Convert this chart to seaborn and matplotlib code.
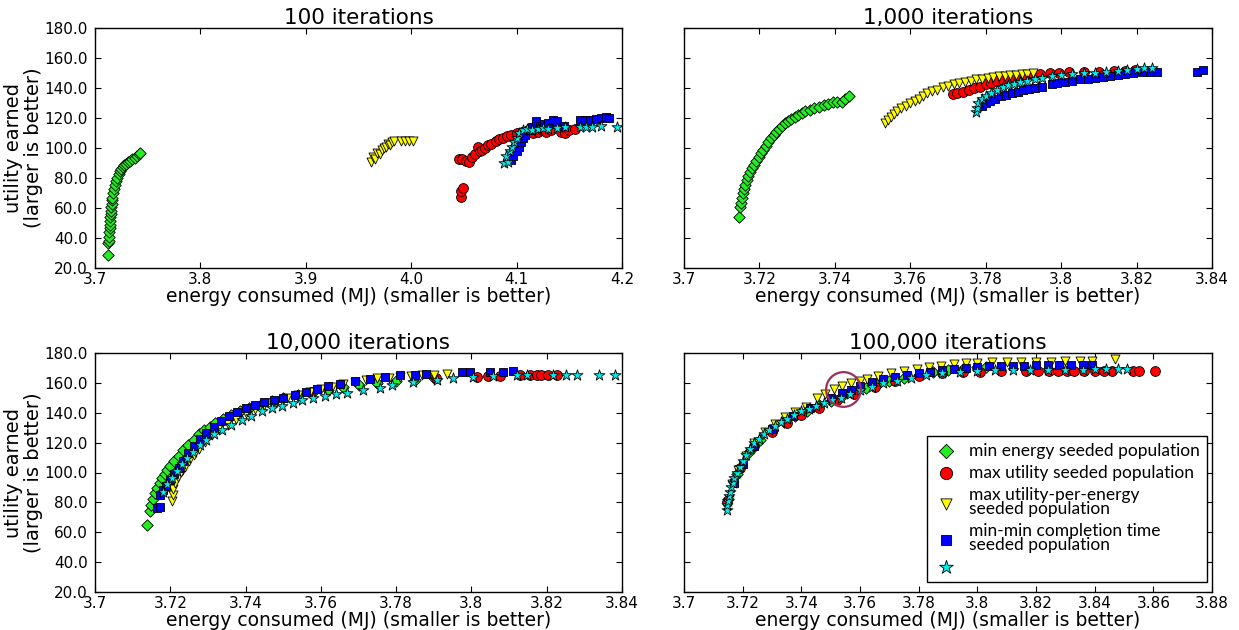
import numpy as np
import pandas as pd
import matplotlib
matplotlib.use("Agg")
import matplotlib.pyplot as plt
import seaborn as sns

# ---------------- data ----------------
panel_titles = ["100 iterations", "1,000 iterations", "10,000 iterations", "100,000 iterations"]
xlims = [(3.7, 4.2), (3.7, 3.84), (3.7, 3.84), (3.7, 3.88)]
x_ticks_100 = [3.7, 3.8, 3.9, 4.0, 4.1, 4.2]
x_ticks_1k = [3.7, 3.72, 3.74, 3.76, 3.78, 3.8, 3.82, 3.84]
x_ticks_10k = [3.7, 3.72, 3.74, 3.76, 3.78, 3.8, 3.82, 3.84]
x_ticks_100k = [3.7, 3.72, 3.74, 3.76, 3.78, 3.8, 3.82, 3.84, 3.86, 3.88]
x_tick_labels_100 = ["3.7", "3.8", "3.9", "4.0", "4.1", "4.2"]
x_tick_labels_1k = ["3.7", "3.72", "3.74", "3.76", "3.78", "3.8", "3.82", "3.84"]
x_tick_labels_10k = ["3.7", "3.72", "3.74", "3.76", "3.78", "3.8", "3.82", "3.84"]
x_tick_labels_100k = ["3.7", "3.72", "3.74", "3.76", "3.78", "3.8", "3.82", "3.84", "3.86", "3.88"]
y_ticks = [20, 40, 60, 80, 100, 120, 140, 160, 180]
y_tick_labels = ["20.0", "40.0", "60.0", "80.0", "100.0", "120.0", "140.0", "160.0", "180.0"]

series_labels = ["min energy seeded population", "max utility seeded population",
                 "max utility-per-energy\nseeded population",
                 "min-min completion time\nseeded population", ""]

# --- 100 iterations ---
e100_green = [3.7123, 3.7127, 3.7130, 3.7133, 3.7135, 3.7138, 3.7140, 3.7142, 3.7145, 3.7148, 3.7150,
              3.7153, 3.7157, 3.7160, 3.7165, 3.7172, 3.7180, 3.7190, 3.7200, 3.7212, 3.7225, 3.7238,
              3.7250, 3.7262, 3.7275, 3.7290, 3.7310, 3.7330, 3.7350, 3.7375, 3.7400, 3.7415, 3.7425]
u100_green = [29.0, 36.5, 38.0, 41.0, 44.0, 46.5, 49.0, 51.5, 54.0, 56.0, 58.0, 60.5, 63.0, 65.5, 67.0,
              70.0, 73.0, 75.5, 78.0, 80.0, 82.5, 84.5, 86.0, 87.5, 88.5, 89.5, 90.5, 91.5, 92.5, 93.5,
              95.0, 96.0, 97.0]
e100_red = [4.047, 4.047, 4.049, 4.045, 4.048, 4.052, 4.055, 4.058, 4.061, 4.063, 4.065, 4.067, 4.070,
            4.073, 4.076, 4.080, 4.083, 4.087, 4.091, 4.095, 4.100, 4.105, 4.110, 4.116, 4.120, 4.124,
            4.128, 4.133, 4.142, 4.146, 4.150, 4.155]
u100_red = [67.5, 71.5, 73.5, 93.0, 92.5, 91.5, 90.5, 94.0, 96.0, 101.0, 98.0, 99.0, 100.0, 102.0,
            103.0, 105.0, 106.0, 107.0, 108.0, 109.0, 110.0, 111.0, 111.0, 110.0, 111.0, 112.0, 111.0,
            112.0, 111.0, 110.0, 112.0, 113.0]
e100_yellow = [3.962, 3.964, 3.966, 3.968, 3.970, 3.972, 3.974, 3.976, 3.978, 3.980, 3.982, 3.984,
               3.990, 3.994, 3.998, 4.002]
u100_yellow = [91.0, 94.0, 92.5, 97.0, 96.0, 99.0, 100.0, 101.0, 103.0, 102.0, 104.0, 105.0,
               105.0, 105.0, 105.0, 105.0]
e100_blue = [4.095, 4.097, 4.100, 4.102, 4.104, 4.106, 4.108, 4.112, 4.115, 4.118, 4.122, 4.126, 4.130,
             4.135, 4.138, 4.145, 4.160, 4.165, 4.170, 4.175, 4.180, 4.185, 4.188]
u100_blue = [92.0, 95.0, 98.0, 101.0, 104.0, 107.0, 109.0, 112.0, 114.0, 118.0, 115.0, 116.0, 117.0,
             119.0, 118.0, 115.0, 119.0, 119.0, 119.0, 119.5, 120.0, 120.5, 120.0]
e100_cyan = [4.088, 4.092, 4.090, 4.094, 4.096, 4.098, 4.100, 4.102, 4.106, 4.110, 4.115, 4.120, 4.125,
             4.130, 4.138, 4.146, 4.160, 4.166, 4.172, 4.180, 4.195]
u100_cyan = [90.0, 91.0, 95.0, 98.0, 101.0, 104.0, 107.0, 110.0, 112.0, 113.0, 112.0, 113.0, 113.5,
             113.0, 113.5, 114.0, 114.0, 114.0, 114.0, 114.5, 114.0]

# --- 1,000 iterations ---
e1k_green = [3.7146, 3.7149, 3.7151, 3.7154, 3.7157, 3.7160, 3.7163, 3.7166, 3.7170, 3.7175, 3.7180,
             3.7186, 3.7192, 3.7198, 3.7204, 3.7210, 3.7217, 3.7224, 3.7231, 3.7238, 3.7245, 3.7252,
             3.7260, 3.7268, 3.7276, 3.7284, 3.7293, 3.7302, 3.7312, 3.7322, 3.7333, 3.7345, 3.7357,
             3.7370, 3.7383, 3.7395, 3.7405, 3.7418, 3.7428, 3.7437]
u1k_green = [54.0, 61.0, 63.5, 66.5, 70.0, 72.5, 75.5, 78.5, 81.5, 84.0, 86.5, 89.0, 91.5, 94.0, 96.5,
             99.0, 101.5, 104.0, 106.5, 108.5, 110.5, 112.5, 114.5, 116.5, 118.0, 119.5, 121.0, 122.0,
             123.5, 124.5, 125.5, 126.5, 127.5, 128.5, 129.5, 130.5, 130.5, 131.0, 132.5, 134.5]
e1k_red = [3.7712, 3.7725, 3.7740, 3.7755, 3.7770, 3.7785, 3.7800, 3.7815, 3.7830, 3.7845, 3.7860,
           3.7875, 3.7890, 3.7905, 3.7925, 3.7945, 3.7970, 3.7995, 3.8020, 3.8060, 3.8100, 3.8140,
           3.8170, 3.8195]
u1k_red = [136.0, 137.0, 137.5, 138.5, 140.0, 141.0, 142.5, 143.5, 144.5, 145.5, 146.5, 147.3, 148.0,
           148.5, 149.2, 149.5, 150.0, 150.3, 150.6, 150.8, 151.0, 151.3, 151.6, 152.0]
e1k_yellow = [3.7533, 3.7540, 3.7548, 3.7556, 3.7566, 3.7576, 3.7588, 3.7600, 3.7612, 3.7622, 3.7633,
              3.7645, 3.7658, 3.7672, 3.7686, 3.7700, 3.7715, 3.7730, 3.7745, 3.7760, 3.7775, 3.7790,
              3.7805, 3.7820, 3.7835, 3.7850, 3.7865, 3.7880, 3.7895, 3.7910, 3.7925]
u1k_yellow = [117.0, 119.0, 121.0, 123.0, 125.0, 126.5, 128.0, 130.0, 131.5, 133.0, 135.0, 136.5,
              138.0, 139.0, 140.5, 141.5, 142.5, 143.5, 144.3, 145.0, 145.7, 146.3, 146.9, 147.4,
              147.9, 148.3, 148.7, 149.0, 149.3, 149.6, 149.8]
e1k_blue = [3.7790, 3.7800, 3.7812, 3.7825, 3.7840, 3.7855, 3.7870, 3.7885, 3.7900, 3.7915, 3.7930,
            3.7950, 3.7975, 3.7990, 3.8010, 3.8030, 3.8050, 3.8070, 3.8090, 3.8110, 3.8130, 3.8150,
            3.8170, 3.8190, 3.8215, 3.8235, 3.8255, 3.8360, 3.8375]
u1k_blue = [128.0, 130.0, 131.5, 133.0, 134.5, 135.5, 136.5, 137.5, 138.5, 139.3, 140.0, 140.8, 142.5,
            143.5, 144.3, 145.0, 145.7, 146.3, 147.0, 147.6, 148.3, 149.0, 149.5, 150.0, 150.5, 150.8,
            151.0, 151.0, 151.7]
e1k_cyan = [3.7773, 3.7776, 3.7780, 3.7790, 3.7800, 3.7815, 3.7830, 3.7845, 3.7860, 3.7875, 3.7890,
            3.7910, 3.7930, 3.7950, 3.7975, 3.8000, 3.8030, 3.8060, 3.8090, 3.8120, 3.8150, 3.8175,
            3.8200, 3.8220, 3.8240]
u1k_cyan = [124.0, 127.0, 130.0, 133.0, 135.0, 137.0, 139.0, 140.5, 141.8, 143.0, 144.0, 145.0, 146.0,
            147.0, 147.8, 148.5, 149.2, 149.8, 150.3, 150.8, 151.3, 152.0, 152.8, 153.3, 153.3]

# --- 10,000 iterations ---
e10k_green = [3.7138, 3.7146, 3.7150, 3.7154, 3.7160, 3.7166, 3.7172, 3.7178, 3.7185, 3.7192, 3.7200,
              3.7210, 3.7222, 3.7235, 3.7248, 3.7262, 3.7276, 3.7290, 3.7305, 3.7320, 3.7340, 3.7360,
              3.7385, 3.7410, 3.7440, 3.7470, 3.7500, 3.7540, 3.7580, 3.7620, 3.7660, 3.7700, 3.7750,
              3.7800, 3.7850, 3.7900]
u10k_green = [65.0, 74.0, 78.0, 82.0, 86.0, 89.5, 93.0, 96.0, 99.0, 102.0, 104.5, 107.5, 111.0, 115.0,
              118.5, 122.0, 126.0, 128.5, 130.5, 133.0, 136.0, 138.5, 141.0, 143.0, 145.5, 148.0, 150.0,
              152.0, 154.0, 155.5, 157.0, 158.5, 160.0, 161.0, 162.0, 163.0]
e10k_red = [3.7222, 3.7575, 3.7905, 3.8015, 3.8045, 3.8076, 3.8130, 3.8156, 3.8174, 3.8185, 3.8204,
            3.8228]
u10k_red = [101.0, 154.0, 163.0, 164.0, 164.5, 164.6, 165.3, 165.3, 165.3, 165.3, 165.3, 165.3]
e10k_yellow = [3.7205, 3.7206, 3.7208, 3.7213, 3.7220, 3.7228, 3.7238, 3.7250, 3.7262, 3.7276, 3.7292,
               3.7310, 3.7330, 3.7352, 3.7375, 3.7400, 3.7425, 3.7450, 3.7480, 3.7510, 3.7540, 3.7570,
               3.7600, 3.7630, 3.7660, 3.7690, 3.7720, 3.7750, 3.7780, 3.7810, 3.7840, 3.7870, 3.7900,
               3.7935]
u10k_yellow = [81.0, 85.0, 89.0, 93.0, 97.0, 100.5, 104.0, 108.0, 112.0, 116.0, 120.5, 125.0, 129.0,
               132.5, 136.0, 139.5, 142.5, 145.0, 147.5, 150.0, 152.0, 154.0, 156.0, 157.5, 159.0,
               160.5, 162.0, 163.0, 163.5, 164.0, 164.5, 165.0, 165.5, 166.0]
e10k_blue = [3.7165, 3.7172, 3.7173, 3.7180, 3.7188, 3.7198, 3.7210, 3.7222, 3.7235, 3.7248, 3.7262,
             3.7278, 3.7295, 3.7315, 3.7335, 3.7355, 3.7378, 3.7400, 3.7425, 3.7450, 3.7475, 3.7500,
             3.7530, 3.7560, 3.7590, 3.7620, 3.7650, 3.7690, 3.7730, 3.7770, 3.7810, 3.7850, 3.7880,
             3.7975, 3.7995, 3.8050, 3.8085, 3.8110]
u10k_blue = [76.0, 77.0, 85.0, 88.0, 91.0, 95.0, 99.0, 103.0, 108.0, 113.0, 118.0, 122.5, 126.5, 130.5,
             134.5, 137.5, 140.5, 143.0, 145.0, 147.0, 148.5, 150.0, 152.0, 154.0, 156.0, 158.0, 159.5,
             161.0, 162.5, 164.0, 165.0, 165.5, 166.0, 167.5, 167.5, 167.5, 167.5, 168.0]
e10k_cyan = [3.7180, 3.7192, 3.7205, 3.7218, 3.7230, 3.7245, 3.7260, 3.7278, 3.7295, 3.7315, 3.7337,
             3.7360, 3.7390, 3.7415, 3.7443, 3.7470, 3.7497, 3.7525, 3.7550, 3.7580, 3.7610, 3.7640,
             3.7670, 3.7712, 3.7757, 3.7790, 3.7845, 3.7909, 3.7950, 3.8005, 3.8058, 3.8120, 3.8148,
             3.8217, 3.8250, 3.8280, 3.8340, 3.8382]
u10k_cyan = [87.0, 92.0, 96.0, 101.0, 106.0, 110.0, 114.0, 118.5, 122.0, 125.5, 128.5, 131.5, 135.0,
             138.0, 141.0, 143.0, 144.5, 146.5, 148.5, 150.0, 151.0, 152.5, 153.5, 155.0, 156.5, 158.5,
             160.5, 162.0, 163.3, 164.0, 164.6, 165.3, 165.3, 165.3, 165.3, 165.3, 165.3, 165.3]

# --- 100,000 iterations ---
e100k_green = [3.7150, 3.7180, 3.7220, 3.7260, 3.7300, 3.7340, 3.7380, 3.7420, 3.7460, 3.7500, 3.7540,
               3.7580, 3.7620, 3.7660, 3.7700, 3.7750, 3.7800, 3.7850, 3.7900, 3.7950, 3.8000, 3.8030]
u100k_green = [82.0, 99.0, 114.0, 122.0, 128.0, 133.5, 137.5, 141.5, 145.0, 148.0, 151.0, 153.5, 156.5,
               159.0, 161.0, 163.5, 165.5, 167.0, 168.5, 169.5, 170.5, 170.5]
e100k_red = [3.7147, 3.7190, 3.7240, 3.7300, 3.7350, 3.7400, 3.7460, 3.7520, 3.7580, 3.7650, 3.7720,
             3.7800, 3.7880, 3.7950, 3.8010, 3.8081, 3.8166, 3.8208, 3.8244, 3.8274, 3.8305, 3.8329,
             3.8365, 3.8401, 3.8431, 3.8460, 3.8532, 3.8550, 3.8605]
u100k_red = [80.0, 103.0, 118.0, 127.0, 133.0, 138.5, 143.5, 148.5, 152.5, 157.5, 161.0, 164.5, 166.5,
             167.5, 167.5, 167.8, 168.0, 168.0, 168.0, 168.0, 168.0, 168.0, 168.0, 168.0, 168.0, 168.0,
             168.0, 168.0, 168.0]
e100k_yellow = [3.7165, 3.7185, 3.7210, 3.7240, 3.7275, 3.7310, 3.7345, 3.7380, 3.7415, 3.7453, 3.7480,
                3.7511, 3.7540, 3.7570, 3.7600, 3.7624, 3.7660, 3.7706, 3.7750, 3.7795, 3.7835, 3.7876,
                3.7920, 3.7960, 3.8000, 3.8050, 3.8100, 3.8150, 3.8200, 3.8250, 3.8300, 3.8350, 3.8390,
                3.8470]
u100k_yellow = [92.0, 102.0, 111.0, 120.0, 127.0, 132.5, 137.0, 140.5, 144.0, 150.0, 152.5, 156.0,
                158.0, 160.0, 161.5, 162.6, 164.5, 166.6, 168.0, 169.3, 170.5, 171.5, 172.5, 173.0,
                173.5, 174.0, 174.0, 174.0, 174.0, 174.0, 174.5, 174.5, 174.5, 176.0]
e100k_blue = [3.7170, 3.7200, 3.7240, 3.7300, 3.7370, 3.7430, 3.7500, 3.7540, 3.7570, 3.7600, 3.7640,
              3.7680, 3.7720, 3.7760, 3.7800, 3.7840, 3.7880, 3.7920, 3.7960, 3.8000, 3.8040, 3.8080,
              3.8120, 3.8160, 3.8200, 3.8240, 3.8280, 3.8320, 3.8360, 3.8390]
u100k_blue = [93.0, 106.0, 118.0, 129.0, 137.5, 143.0, 150.0, 153.5, 155.5, 158.0, 160.5, 162.5, 164.0,
              165.5, 166.5, 167.5, 168.5, 169.5, 170.0, 170.5, 171.0, 171.3, 171.5, 171.5, 171.7, 171.8,
              172.0, 172.0, 172.0, 172.0]
e100k_cyan = [3.7145, 3.7147, 3.7150, 3.7153, 3.7157, 3.7161, 3.7166, 3.7172, 3.7180, 3.7190, 3.7200,
              3.7212, 3.7225, 3.7240, 3.7255, 3.7272, 3.7290, 3.7310, 3.7330, 3.7352, 3.7375, 3.7400,
              3.7425, 3.7450, 3.7477, 3.7505, 3.7535, 3.7565, 3.7600, 3.7640, 3.7680, 3.7725, 3.7775,
              3.7825, 3.7880, 3.7940, 3.8000, 3.8060, 3.8120, 3.8180, 3.8240, 3.8300, 3.8360, 3.8400,
              3.8440, 3.8480, 3.8510]
u100k_cyan = [75.0, 78.0, 81.0, 84.0, 87.0, 90.0, 93.0, 96.0, 100.0, 104.0, 108.0, 112.0, 116.0, 119.5,
              122.5, 125.5, 128.5, 131.0, 133.5, 136.0, 138.5, 141.0, 142.5, 144.5, 146.5, 148.5, 150.0,
              152.5, 155.5, 157.5, 160.0, 161.5, 163.3, 165.0, 166.5, 167.5, 168.0, 168.3, 168.5, 168.5,
              168.5, 168.5, 168.5, 169.0, 169.0, 169.5, 169.5]

# highlighted region in the 100,000-iteration panel
circle_e = [3.7542]
circle_u = [156.0]

# ---------------- styling ----------------
sns.set_theme(style="ticks")
plt.rcParams["font.family"] = ["DejaVu Sans"]
plt.rcParams.update({
    "xtick.direction": "in", "ytick.direction": "in",
    "xtick.top": True, "ytick.right": True,
    "xtick.major.size": 4, "ytick.major.size": 4,
    "xtick.major.width": 0.8, "ytick.major.width": 0.8,
    "axes.edgecolor": "black", "axes.linewidth": 1.0,
    "xtick.color": "black", "ytick.color": "black",
    "text.color": "black", "axes.labelcolor": "black",
})

colors = ["#22ee22", "#ff0000", "#ffff00", "#0000ff", "#00eeee"]
markers = ["D", "o", "v", "s", "*"]
sizes = [34, 50, 42, 38, 68]

panels = [
    [(e100_green, u100_green), (e100_red, u100_red), (e100_yellow, u100_yellow), (e100_blue, u100_blue), (e100_cyan, u100_cyan)],
    [(e1k_green, u1k_green), (e1k_red, u1k_red), (e1k_yellow, u1k_yellow), (e1k_blue, u1k_blue), (e1k_cyan, u1k_cyan)],
    [(e10k_green, u10k_green), (e10k_red, u10k_red), (e10k_yellow, u10k_yellow), (e10k_blue, u10k_blue), (e10k_cyan, u10k_cyan)],
    [(e100k_green, u100k_green), (e100k_red, u100k_red), (e100k_yellow, u100k_yellow), (e100k_blue, u100k_blue), (e100k_cyan, u100k_cyan)],
]
xticks = [x_ticks_100, x_ticks_1k, x_ticks_10k, x_ticks_100k]
xticklabels = [x_tick_labels_100, x_tick_labels_1k, x_tick_labels_10k, x_tick_labels_100k]

W, H = 1239, 630
fig = plt.figure(figsize=(W / 100, H / 100), dpi=100)
rects = [
    (95 / W, 1 - 268 / H, 527 / W, 240 / H),
    (684 / W, 1 - 268 / H, 528 / W, 240 / H),
    (95 / W, 1 - 592 / H, 527 / W, 239 / H),
    (684 / W, 1 - 592 / H, 528 / W, 239 / H),
]

for i, rect in enumerate(rects):
    ax = fig.add_axes(rect)
    handles = []
    for k, (e, u) in enumerate(panels[i]):
        df = pd.DataFrame({"energy": e, "utility": u})
        sns.scatterplot(data=df, x="energy", y="utility", marker=markers[k], color=colors[k],
                        edgecolor="black", linewidth=0.6, s=sizes[k], ax=ax, legend=False, zorder=2 + k)
        handles.append(ax.collections[-1])
    ax.set_xlim(*xlims[i])
    ax.set_ylim(20, 180)
    ax.set_xticks(xticks[i])
    ax.set_xticklabels(xticklabels[i], fontsize=11)
    ax.set_yticks(y_ticks)
    if i % 2 == 0:
        ax.set_yticklabels(y_tick_labels, fontsize=11)
        ax.set_ylabel("utility earned\n(larger is better)", fontsize=14, labelpad=1, linespacing=1.1)
    else:
        ax.set_yticklabels([])
        ax.set_ylabel("")
    ax.tick_params(axis="x", pad=3)
    ax.tick_params(axis="y", pad=5)
    ax.set_xlabel("energy consumed (MJ) (smaller is better)", fontsize=13.5, labelpad=0)
    ax.set_title(panel_titles[i], fontsize=15.5, pad=3)
    for sp in ax.spines.values():
        sp.set_visible(True)
        sp.set_color("black")

    if i == 3:
        ax.plot(circle_e, circle_u, marker="o", markersize=25, markerfacecolor="none",
                markeredgecolor="#9c2f5c", markeredgewidth=1.6, linestyle="none", zorder=10)
        leg = ax.legend(handles, series_labels, loc="lower right", bbox_to_anchor=(0.9905, 0.042),
                        borderaxespad=0, frameon=True, fancybox=False, edgecolor="black",
                        framealpha=1, markerscale=1.25, labelspacing=0.35, handletextpad=0.7,
                        borderpad=0.4, handlelength=1.3, prop={"family": "Lato", "size": 12.5})
        leg.get_frame().set_linewidth(1.0)
        for t in leg.get_texts():
            t.set_linespacing(0.85)

fig.savefig("out.png", dpi=100)
